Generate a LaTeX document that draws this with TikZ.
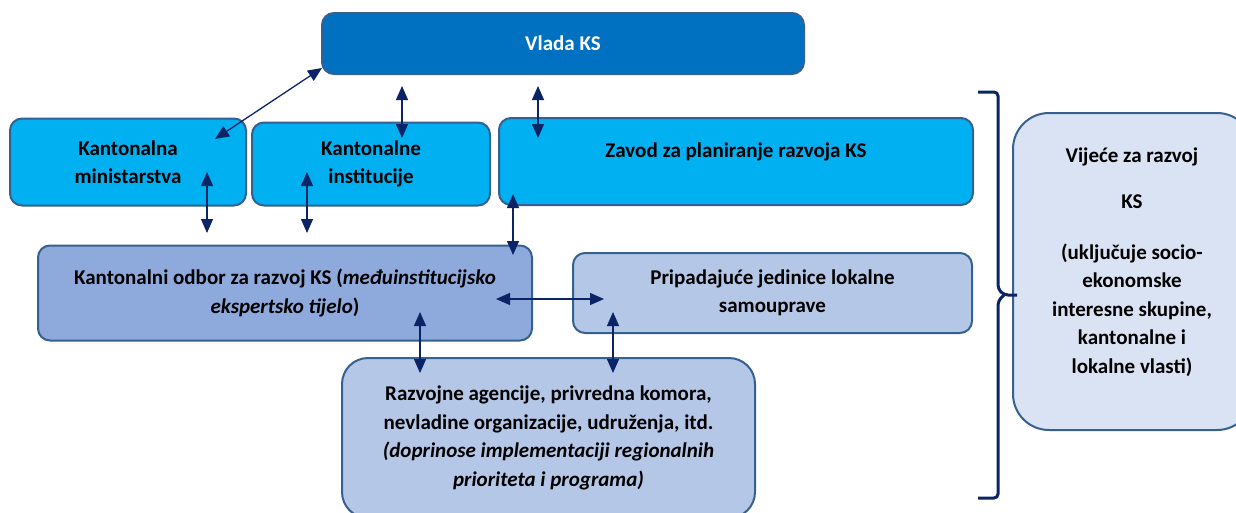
\documentclass[tikz,border=0pt]{standalone}
\usepackage{fontspec}
\setmainfont{Carlito}
\usetikzlibrary{arrows.meta}
\definecolor{bordc}{HTML}{35608F}
\definecolor{vladac}{HTML}{0070C0}
\definecolor{lightc}{HTML}{00B0F0}
\definecolor{odborc}{HTML}{8EA9DB}
\definecolor{palec}{HTML}{B4C7E7}
\definecolor{vijecec}{HTML}{DAE3F3}
\definecolor{arrc}{HTML}{0B2466}
\tikzset{
  boxst/.style={draw=bordc, line width=2pt, rounded corners=12pt, align=center, inner sep=0pt},
  txt/.style={align=center, font=\fontsize{21}{28.5}\selectfont\bfseries},
  dbl/.style={arrc, line width=1.3pt, {Triangle[length=14pt,width=12pt]}-{Triangle[length=14pt,width=12pt]}},
  bracest/.style={arrc, line width=3pt, rounded corners=4pt},
}
\begin{document}
\begin{tikzpicture}[x=1pt,y=-1pt]
\useasboundingbox (0,0) rectangle (1236,512);
% boxes
\node[boxst, fill=vladac, minimum width=482, minimum height=61, text=white, txt] (vlada) at (563,43.5) {Vlada KS};
\node[boxst, fill=lightc, minimum width=236, minimum height=87, txt] (minist) at (128,162) {Kantonalna\\ministarstva};
\node[boxst, fill=lightc, minimum width=238, minimum height=83, txt] (instit) at (371,164) {Kantonalne\\institucije};
\node[boxst, fill=lightc, minimum width=474, minimum height=87] (zavod) at (736,161.5) {};
\node[txt] (zavodt) at (736,152) {Zavod za planiranje razvoja KS};
\node[boxst, fill=odborc, minimum width=494, minimum height=95, txt] (odbor) at (285,293) {Kantonalni odbor za razvoj KS (\textit{međuinstitucijsko}\\\textit{ekspertsko tijelo})};
\node[boxst, fill=palec, minimum width=399, minimum height=80, txt] (pripad) at (772.5,293) {Pripadajuće jedinice lokalne\\samouprave};
\node[boxst, fill=palec, rounded corners=26pt, minimum width=413, minimum height=160, txt] (razv) at (548.5,438) {Razvojne agencije, privredna komora,\\nevladine organizacije, udruženja, itd.\\\textit{(doprinose implementaciji regionalnih}\\\textit{prioriteta i programa)}};
\node[boxst, fill=vijecec, rounded corners=36pt, minimum width=240, minimum height=317] (vijece) at (1133,271.5) {};
\node[txt] (vijecet) at (1132,262) {Vijeće za razvoj\\[18pt]KS\\[22pt](uključuje socio-\\ekonomske\\interesne skupine,\\kantonalne i\\lokalne vlasti)};
% arrow end points
\coordinate (a1) at (322,68);  \coordinate (b1) at (215,139);
\coordinate (a2) at (402,86);  \coordinate (b2) at (402,138);
\coordinate (a3) at (538,86);  \coordinate (b3) at (538,138);
\coordinate (a4) at (207,172); \coordinate (b4) at (207,233);
\coordinate (a5) at (307,172); \coordinate (b5) at (307,233);
\coordinate (a6) at (513,194); \coordinate (b6) at (513,255);
\coordinate (a7) at (496,299); \coordinate (b7) at (604,299);
\coordinate (a8) at (420,312); \coordinate (b8) at (420,373);
\coordinate (a9) at (613,312); \coordinate (b9) at (613,373);
\foreach \i in {1,...,9} {\draw[dbl] (a\i) -- (b\i);}
% brace
\coordinate (bt) at (978,92);
\coordinate (bb) at (978,498);
\coordinate (bm) at (1017,295);
\draw[bracest] (bt) -- (998,92) -- (998,289) -- (1004,295) -- (bm);
\draw[bracest] (bb) -- (998,498) -- (998,301) -- (1004,295);
\end{tikzpicture}
\end{document}
